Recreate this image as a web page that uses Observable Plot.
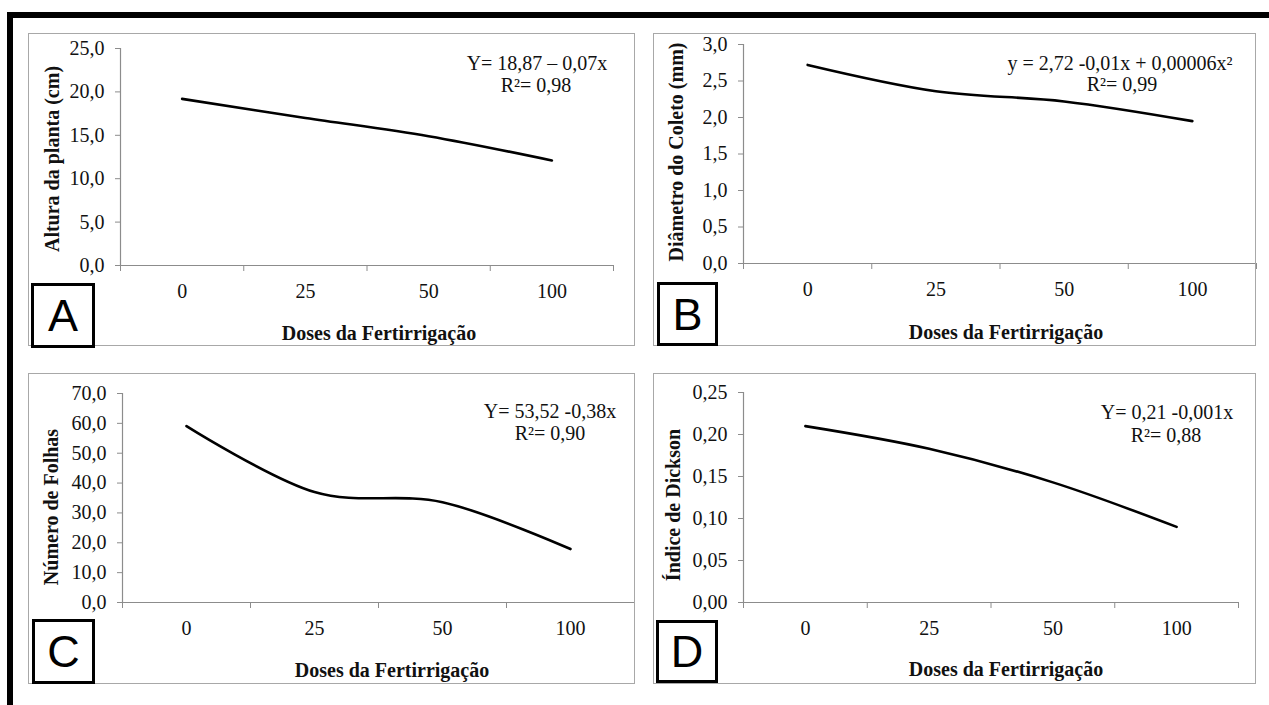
<!DOCTYPE html>
<html>
<head>
<meta charset="utf-8">
<script src="https://cdn.jsdelivr.net/npm/d3@7"></script>
<script src="https://cdn.jsdelivr.net/npm/@observablehq/plot@0.6"></script>
<style>
  html, body { margin: 0; padding: 0; background: #fff; }
  #root { position: relative; width: 1269px; height: 705px; background: #fff; overflow: hidden; }
  .abs { position: absolute; }
  .txt { position: absolute; white-space: nowrap; line-height: 1; transform: translate(-50%, -50%);
         font-family: "Liberation Serif", "Times New Roman", serif; font-size: 20px; color: #111; }
  .bold { font-weight: bold; }
  .ytitle { transform: translate(-50%, -50%) rotate(-90deg); }
  .letter { position: absolute; box-sizing: border-box; border: 3px solid #000; background: #fff;
            display: flex; align-items: center; justify-content: center;
            font-family: "Liberation Sans", Arial, sans-serif; font-size: 45px; color: #000; line-height: 1; }
  .pborder { position: absolute; box-sizing: border-box; border: 1.5px solid #a8a8a8; }
</style>
</head>
<body>
<div id="root"></div>
<script>
// ---- data ----
const doses = ["0", "25", "50", "100"];
const alturaPlanta = [19.2, 17.0, 14.9, 12.1];
const diametroColeto = [2.72, 2.36, 2.22, 1.95];
const numeroFolhas = [59.1, 37.0, 33.6, 17.9];
const indiceDickson = [0.210, 0.183, 0.143, 0.090];

const ticksA = [0, 5, 10, 15, 20, 25];
const ticksB = [0, 0.5, 1, 1.5, 2, 2.5, 3];
const ticksC = [0, 10, 20, 30, 40, 50, 60, 70];
const ticksD = [0, 0.05, 0.10, 0.15, 0.20, 0.25];

const xTitle = "Doses da Fertirrigação";
const yTitles = ["Altura da planta (cm)", "Diâmetro do Coleto (mm)", "Número de Folhas", "Índice de Dickson"];
const eqLines = [
  ["Y= 18,87 – 0,07x", "R²= 0,98"],
  ["y = 2,72 -0,01x + 0,00006x²", "R²= 0,99"],
  ["Y= 53,52 -0,38x", "R²= 0,90"],
  ["Y= 0,21 -0,001x", "R²= 0,88"]
];
const letters = ["A", "B", "C", "D"];

// ---- layout ----
const panels = [
  { values: alturaPlanta, ticks: ticksA, dec: 1, box: [28, 33, 607, 313], m: [15, 22, 81, 92],
    yt: [24, 126], xt: [351, 300], eq: [[509, 30], [508, 52]], lb: [3, 250, 64, 65] },
  { values: diametroColeto, ticks: ticksB, dec: 1, box: [653, 33, 603, 313], m: [11, 0, 83, 90],
    yt: [23, 119], xt: [353, 299], eq: [[467, 30], [469, 51]], lb: [4, 249, 61, 64] },
  { values: numeroFolhas, ticks: ticksC, dec: 1, box: [28, 373, 607, 311], m: [20, 1, 82, 94],
    yt: [23, 134], xt: [364, 297], eq: [[522, 38], [522, 60]], lb: [4, 246, 63, 65] },
  { values: indiceDickson, ticks: ticksD, dec: 2, box: [653, 373, 603, 311], m: [19, 18, 82, 90],
    yt: [20, 132], xt: [353, 296], eq: [[514, 39], [513, 62]], lb: [3, 247, 62, 63] }
];

const root = document.getElementById("root");
function el(cls, style, html) {
  const d = document.createElement("div");
  d.className = cls;
  Object.assign(d.style, style);
  if (html != null) d.innerHTML = html;
  root.appendChild(d);
  return d;
}

// outer black frame (top and left)
el("abs", { left: "7px", top: "12px", width: "1262px", height: "6px", background: "#000" });
el("abs", { left: "7px", top: "12px", width: "6px", height: "693px", background: "#000" });

panels.forEach((p, k) => {
  const [bx, by, bw, bh] = p.box;
  const [mt, mr, mb, ml] = p.m;
  const data = p.values.map((v, i) => ({ i: i + 0.5, v }));
  const fmt = d => d.toFixed(p.dec).replace(".", ",");
  const yMax = p.ticks[p.ticks.length - 1];

  const chart = Plot.plot({
    width: bw, height: bh,
    marginTop: mt, marginRight: mr, marginBottom: mb, marginLeft: ml,
    style: { fontFamily: "Liberation Serif, Times New Roman, serif", fontSize: "20px", color: "#111",
             background: "transparent", overflow: "visible" },
    x: { domain: [0, doses.length] },
    y: { domain: [0, yMax] },
    marks: [
      Plot.ruleX([0], { stroke: "#8c8c8c", strokeWidth: 1.2 }),
      Plot.ruleY([0], { stroke: "#8c8c8c", strokeWidth: 1.2 }),
      Plot.axisY({ ticks: p.ticks, tickSize: 5, tickPadding: 11, tickFormat: fmt, stroke: "#8c8c8c",
                   label: null, fill: "#111" }),
      Plot.axisX({ ticks: d3.range(doses.length + 1), tickSize: 6, tickFormat: () => "", stroke: "#8c8c8c", label: null }),
      Plot.axisX({ ticks: doses.map((d, i) => i + 0.5), tickSize: 0, tickPadding: 18,
                   tickFormat: t => doses[Math.round(t - 0.5)], label: null, fill: "#111" }),
      Plot.line(data, { x: "i", y: "v", curve: "cardinal", tension: 0, stroke: "#000", strokeWidth: 2.6 })
    ]
  });
  chart.style.position = "absolute";
  chart.style.left = bx + "px";
  chart.style.top = by + "px";
  root.appendChild(chart);

  el("pborder", { left: bx + "px", top: by + "px", width: bw + "px", height: bh + "px" });

  // titles
  el("txt bold ytitle", { left: (bx + p.yt[0]) + "px", top: (by + p.yt[1]) + "px" }, yTitles[k]);
  el("txt bold", { left: (bx + p.xt[0]) + "px", top: (by + p.xt[1]) + "px" }, xTitle);
  // equations
  el("txt", { left: (bx + p.eq[0][0]) + "px", top: (by + p.eq[0][1]) + "px" }, eqLines[k][0]);
  el("txt", { left: (bx + p.eq[1][0]) + "px", top: (by + p.eq[1][1]) + "px" }, eqLines[k][1]);
  // letter box
  el("letter", { left: (bx + p.lb[0]) + "px", top: (by + p.lb[1]) + "px", width: p.lb[2] + "px", height: p.lb[3] + "px" }, letters[k]);
});
</script>
</body>
</html>
